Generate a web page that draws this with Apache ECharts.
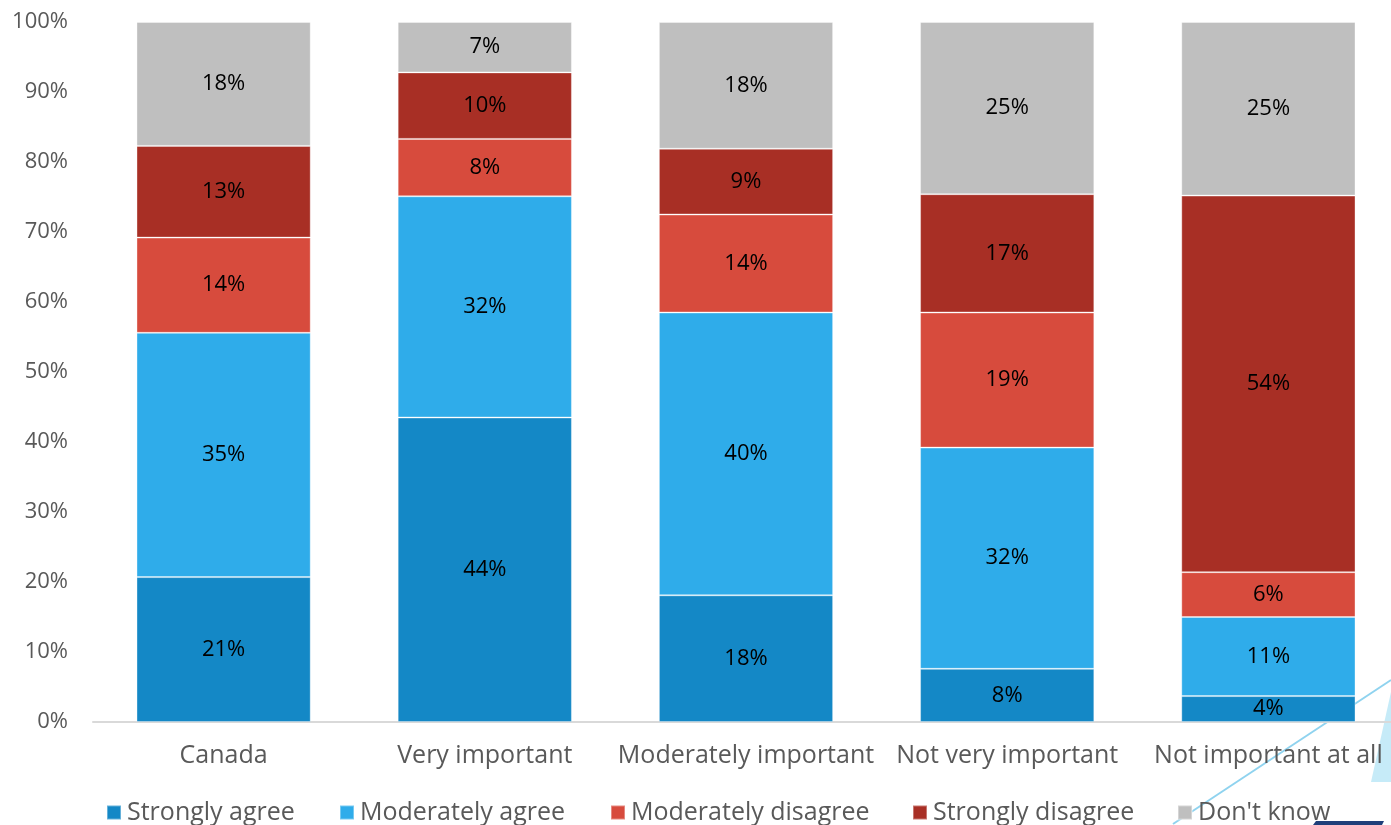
<!DOCTYPE html>
<html>
<head>
<meta charset="utf-8">
<script src="https://cdn.jsdelivr.net/npm/echarts@6/dist/echarts.min.js"></script>
<style>
html,body{margin:0;padding:0;background:#fff;overflow:hidden;}
#c{width:1400px;height:825px;}
</style>
</head>
<body>
<div id="c"></div>
<script>
const categories = ['Canada', 'Very important', 'Moderately important', 'Not very important', 'Not important at all'];
const seriesNames = ['Strongly agree', 'Moderately agree', 'Moderately disagree', 'Strongly disagree', "Don't know"];
const stronglyAgree = [20.7, 43.5, 18.1, 7.6, 3.7];
const moderatelyAgree = [34.9, 31.6, 40.4, 31.6, 11.3];
const moderatelyDisagree = [13.6, 8.2, 14.0, 19.3, 6.4];
const stronglyDisagree = [13.1, 9.5, 9.4, 16.9, 53.8];
const dontKnow = [17.7, 7.2, 18.1, 24.6, 24.8];
const yTicks = [0, 10, 20, 30, 40, 50, 60, 70, 80, 90, 100];

const colors = ['#1488C6', '#2FACEA', '#D74B3D', '#A82F25', '#BFBFBF'];
const allData = [stronglyAgree, moderatelyAgree, moderatelyDisagree, stronglyDisagree, dontKnow];
const FONT = 'Open Sans';

const chart = echarts.init(document.getElementById('c'), null, {renderer: 'canvas'});

const legendLefts = [101, 334, 605, 907, 1172];
const legends = seriesNames.map((n, i) => ({
  data: [n],
  left: legendLefts[i],
  top: 795,
  itemWidth: 14,
  itemHeight: 14,
  itemGap: 0,
  icon: 'rect',
  textStyle: {fontFamily: FONT, fontSize: 25, color: '#595959', padding: [0, 0, 0, 1]},
  selectedMode: false
}));

chart.setOption({
  animation: false,
  color: colors,
  textStyle: {fontFamily: FONT},
  grid: {left: 93, top: 22, width: 1306, height: 700, containLabel: false},
  legend: legends,
  xAxis: {
    type: 'category',
    data: categories,
    axisLine: {lineStyle: {color: '#D9D9D9', width: 2}},
    axisTick: {show: false},
    axisLabel: {fontFamily: FONT, fontSize: 25, color: '#595959', margin: 21, interval: 0}
  },
  yAxis: {
    type: 'value',
    min: 0,
    max: 100,
    interval: 10,
    splitLine: {show: false},
    axisLine: {show: false},
    axisTick: {show: false},
    axisLabel: {fontFamily: FONT, fontSize: 22, color: '#595959', margin: 25,
      formatter: v => yTicks.includes(v) ? v + '%' : ''}
  },
  series: seriesNames.map((n, i) => ({
    name: n,
    type: 'bar',
    stack: 'total',
    barWidth: '66.7%',
    data: allData[i],
    itemStyle: {color: colors[i], borderColor: 'rgba(255,255,255,0.35)', borderWidth: 1},
    label: {
      show: true,
      position: 'inside',
      fontFamily: FONT,
      fontSize: 22,
      color: '#000',
      formatter: p => Math.round(p.value) + '%'
    }
  })),
  graphic: [
    {type: 'line', shape: {x1: 1173, y1: 824, x2: 1391, y2: 680}, style: {stroke: '#8FD3EF', lineWidth: 2}, z: -1},
    {type: 'polygon', shape: {points: [[1391, 692], [1371, 782], [1391, 782]]}, style: {fill: '#C6EBF8'}, z: -1},
    {type: 'polygon', shape: {points: [[1313, 825], [1316, 821], [1384, 821], [1382, 825]]}, style: {fill: '#1F3F7A'}, z: 10}
  ]
});
</script>
</body>
</html>
